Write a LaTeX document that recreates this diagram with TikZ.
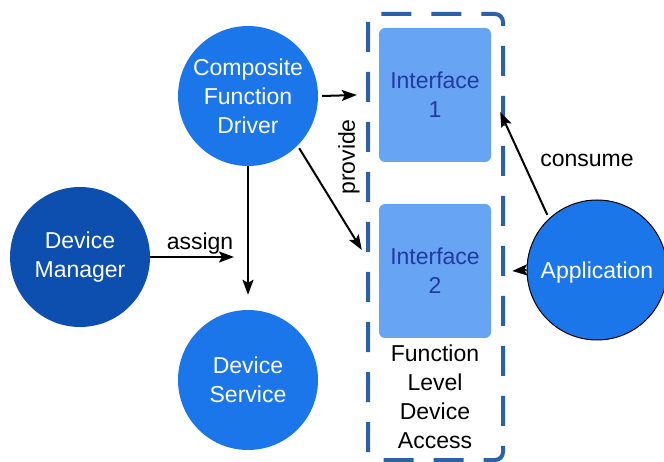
\documentclass[tikz,border=0pt]{standalone}
\usepackage{fontspec}
\setmainfont{Liberation Sans}
\usetikzlibrary{arrows.meta}
\definecolor{bblue}{HTML}{1B76EA}
\definecolor{dblue}{HTML}{0C4FAE}
\definecolor{ifill}{HTML}{68A4F4}
\definecolor{itext}{HTML}{1F3BA0}
\definecolor{dashc}{HTML}{2C60A8}
\tikzset{
  txt/.style={font=\fontsize{23}{29}\selectfont, align=center},
  circ/.style={circle, minimum size=140pt, inner sep=0pt, txt, text=white, fill=bblue},
  ibox/.style={rectangle, rounded corners=6pt, minimum width=112pt, minimum height=134pt, fill=ifill, txt, text=itext, inner sep=0pt},
  arr/.style={line width=2pt, -{Stealth[length=15pt,width=11pt,inset=3pt]}},
  container/.style={draw=dashc, line width=4pt, dash pattern=on 30pt off 20pt, rounded corners=8pt}
}
\begin{document}
\begin{tikzpicture}[x=1pt,y=-1pt]
\useasboundingbox (0,0) rectangle (664,462);
\draw[container] (368,14) rectangle (503,460);
\node[circ] (cfd) at (248,96) {Composite\\Function\\Driver};
\node[circ, fill=dblue] (dm) at (80,257) {Device\\Manager};
\node[circ] (ds) at (248,380) {Device\\Service};
\node[circ, draw=black, line width=1pt, text depth=0pt] (app) at (597,270) {Application};
\node[ibox] (i1) at (435,95) {Interface\\1};
\node[ibox] (i2) at (435,271) {Interface\\2};
\node[txt] (fld) at (435,397) {Function\\Level\\Device\\Access};
\coordinate (asg) at (234,257);
\draw[arr] ([xshift=4pt]cfd.east) -- ([xshift=-22pt]i1.west);
\draw[arr, shorten <=3pt] (cfd.south east) -- ([shift={(-17,-21)}]i2.west);
\draw[arr, shorten >=15pt] (cfd.south) -- (ds.north);
\draw[arr] (dm.east) -- (asg);
\draw[arr, shorten <=4pt] (app.133) -- ([shift={(9,17)}]i1.east);
\draw[arr] (app.west) -- ([xshift=21pt]i2.east);
\node[txt, rotate=90] (prov) at (349,157) {provide};
\node[txt] (asgl) at (200,244) {assign};
\node[txt] (cons) at (587,160) {consume};
\end{tikzpicture}
\end{document}
